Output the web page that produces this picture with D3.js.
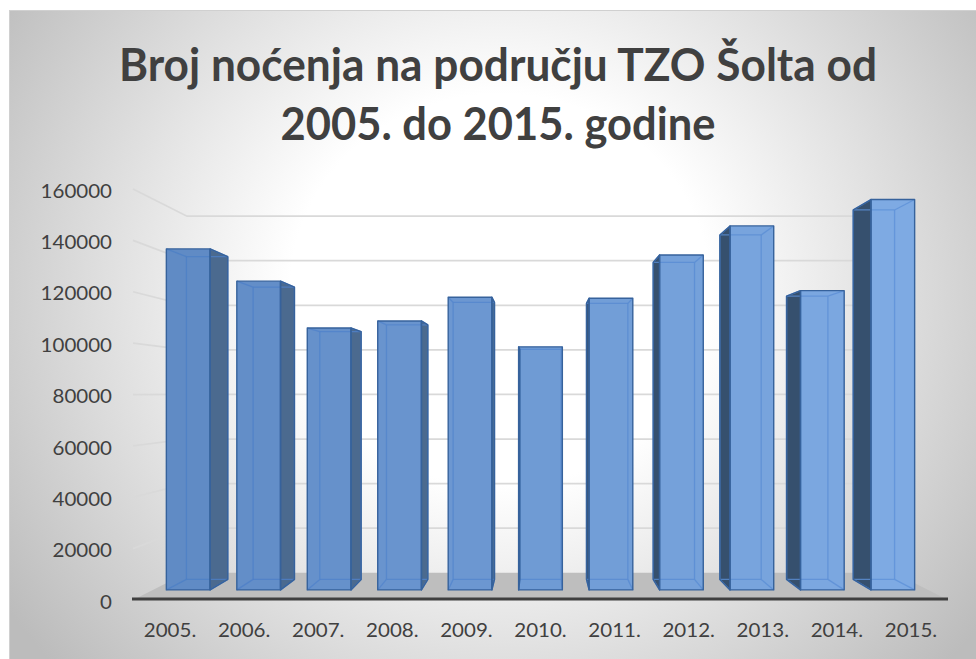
<!DOCTYPE html>
<html>
<head>
<meta charset="utf-8">
<script src="https://cdn.jsdelivr.net/npm/d3@7/dist/d3.min.js"></script>
<style>
  body { margin: 0; background: #fff; }
  svg { display: block; }
  text { font-family: Lato, "Open Sans", sans-serif; }
</style>
</head>
<body>
<svg id="chart" width="976" height="659"></svg>
<script>
// Data
const years = ['2005.', '2006.', '2007.', '2008.', '2009.', '2010.', '2011.', '2012.', '2013.', '2014.', '2015.']
const nights = [139600, 126400, 107200, 110100, 119800, 99500, 119400, 137100, 149000, 122500, 159800]
const yTicks = [0, 20000, 40000, 60000, 80000, 100000, 120000, 140000, 160000]
const titleLines = ['Broj noćenja na području TZO Šolta od', '2005. do 2015. godine']

const svg = d3.select('#chart')
const defs = svg.append('defs')

// Perspective: vanishing point and scale of each depth plane
const vp = [540.5, 394]
const depth = { front: 1, barFront: 0.951, barBack: 0.9, wall: 0.8675 }
const proj = (px, py, s) => [vp[0] + (px - vp[0]) * s, vp[1] + (py - vp[1]) * s]
const poly = pts => d3.line()(pts) + 'Z'

// Scales (front plane)
const x = d3.scaleBand().domain(years).range([133, 948])
const y = d3.scaleLinear().domain([0, 160000]).range([600, 189])
const barW = x.bandwidth() * 0.62

// Background gradient
const bg = defs.append('radialGradient')
  .attr('id', 'bg')
  .attr('gradientUnits', 'userSpaceOnUse')
  .attr('cx', 0).attr('cy', 0).attr('r', 1)
  .attr('gradientTransform', 'translate(500,290) scale(600,560)')
bg.append('stop').attr('offset', 0).attr('stop-color', '#ffffff')
bg.append('stop').attr('offset', 0.35).attr('stop-color', '#ffffff')
bg.append('stop').attr('offset', 1).attr('stop-color', '#bcbcbc')

svg.append('rect')
  .attr('x', 9.5).attr('y', 10.5)
  .attr('width', 980).attr('height', 660)
  .attr('fill', 'url(#bg)')
  .attr('stroke', '#d0d0d0')

// Title
svg.append('g').selectAll('text')
  .data(titleLines)
  .join('text')
  .attr('x', 498)
  .attr('y', (d, i) => i ? 140 : 81)
  .attr('text-anchor', 'middle')
  .attr('font-size', 46)
  .attr('font-weight', 700)
  .attr('fill', '#404040')
  .attr('textLength', (d, i) => i ? 435 : 758)
  .attr('lengthAdjust', 'spacingAndGlyphs')
  .text(d => d)

// Gridlines: left side wall + back wall
const grid = svg.append('g')
  .attr('fill', 'none')
  .attr('stroke', '#d9d9d9')
  .attr('stroke-width', 1.75)
yTicks.filter(t => t > 0).forEach(t => {
  const a = [133, y(t)]
  const b = proj(133, y(t), depth.wall)
  const c = proj(948, y(t), depth.wall)
  grid.append('path').attr('d', d3.line()([a, b, c]))
})

// Floor
svg.append('path')
  .attr('d', poly([
    proj(133, y(0), depth.front), proj(948, y(0), depth.front),
    proj(948, y(0), depth.wall), proj(133, y(0), depth.wall)
  ]))
  .attr('fill', '#bebebe')

svg.append('line')
  .attr('x1', 132).attr('x2', 948)
  .attr('y1', 599).attr('y2', 599)
  .attr('stroke', '#3f3f3f')
  .attr('stroke-width', 3)

// Bars (3D boxes)
const n = years.length
const frontCol = i => d3.interpolateRgb('#608bc5', '#7eaae3')(i / (n - 1))

svg.append('g').selectAll('g')
  .data(nights)
  .join('g')
  .each(function (v, i) {
    const g = d3.select(this)
    const cx = x(years[i]) + x.bandwidth() / 2
    const x0 = cx - barW / 2, x1 = cx + barW / 2
    const yt = y(v), yb = y(0)
    const F = (px, py) => proj(px, py, depth.barFront)
    const B = (px, py) => proj(px, py, depth.barBack)
    const leftOfVp = cx < vp[0]
    const near = leftOfVp ? x1 : x0
    const col = frontCol(i)
    const innerCol = d3.interpolateRgb(col, '#2f6cc8')(0.4)

    const side = [F(near, yt), B(near, yt), B(near, yb), F(near, yb)]
    const front = [F(x0, yt), F(x1, yt), F(x1, yb), F(x0, yb)]

    g.append('path').attr('d', poly(side))
      .attr('fill', leftOfVp ? '#4b6a8f' : '#36506e')
    g.append('path').attr('d', poly(front)).attr('fill', col)

    // hidden edges seen through the front
    const edges = [
      [B(x0, yt), B(x1, yt)], [B(x1, yt), B(x1, yb)],
      [B(x1, yb), B(x0, yb)], [B(x0, yb), B(x0, yt)],
      [F(x0, yt), B(x0, yt)], [F(x1, yt), B(x1, yt)],
      [F(x1, yb), B(x1, yb)], [F(x0, yb), B(x0, yb)]
    ]
    g.append('g')
      .attr('stroke', innerCol)
      .attr('stroke-width', 1.3)
      .attr('stroke-opacity', 0.8)
      .selectAll('path')
      .data(edges)
      .join('path')
      .attr('d', d => d3.line()(d))

    // outlines
    g.append('path').attr('d', poly(side))
      .attr('fill', 'none').attr('stroke', '#36629c')
      .attr('stroke-width', 1.4).attr('stroke-linejoin', 'round')
    g.append('path').attr('d', poly(front))
      .attr('fill', 'none').attr('stroke', '#36629c')
      .attr('stroke-width', 1.4).attr('stroke-linejoin', 'round')
  })

// Value axis labels
svg.append('g').selectAll('text')
  .data(yTicks)
  .join('text')
  .attr('transform', d => `translate(112,${y(d) + 2}) scale(1.08,1)`)
  .attr('text-anchor', 'end')
  .attr('dy', '0.35em')
  .attr('font-size', 19)
  .attr('fill', '#404040')
  .text(d => d)

// Category labels
svg.append('g').selectAll('text')
  .data(years)
  .join('text')
  .attr('transform', d => `translate(${x(d) + x.bandwidth() / 2},630) scale(1.08,1)`)
  .attr('text-anchor', 'middle')
  .attr('dy', '0.35em')
  .attr('font-size', 19)
  .attr('fill', '#404040')
  .text(d => d)
</script>
</body>
</html>
